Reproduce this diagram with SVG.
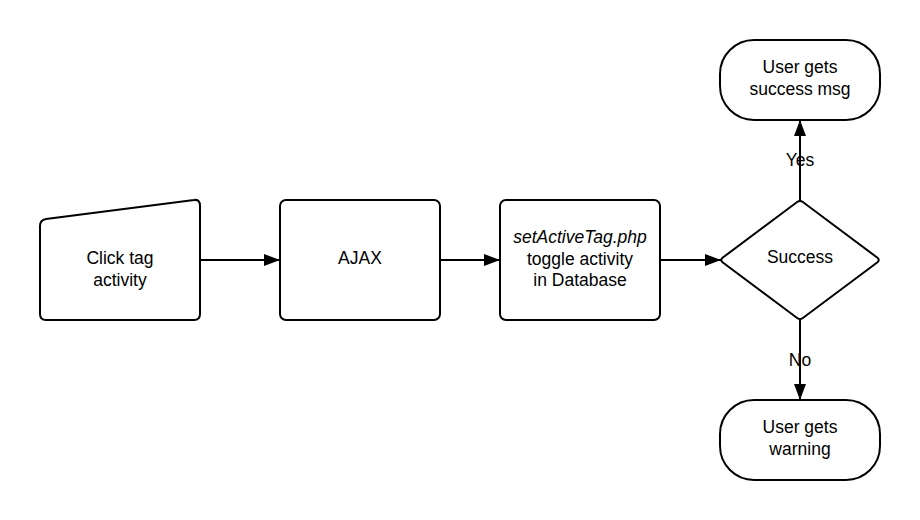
<svg xmlns="http://www.w3.org/2000/svg" width="920" height="520" viewBox="0 0 920 520">
<defs>
<style>
.s{fill:#fff;stroke:#000;stroke-width:2;stroke-linejoin:round}
.t{font-family:"Liberation Sans",Arial,sans-serif;font-size:17.5px;fill:#000;text-anchor:middle}
.c{fill:none;stroke:#000;stroke-width:2}
</style>
<marker id="a" viewBox="0 0 16 12" refX="16" refY="6" markerWidth="16" markerHeight="12" markerUnits="userSpaceOnUse" orient="auto">
<path d="M0,0 L16,6 L0,12 Z" fill="#000"/>
</marker>
</defs>
<rect width="920" height="520" fill="#fff"/>
<g id="connectors">
<line class="c" x1="200" y1="260" x2="280" y2="260" marker-end="url(#a)"/>
<line class="c" x1="440" y1="260" x2="500" y2="260" marker-end="url(#a)"/>
<line class="c" x1="660" y1="260" x2="721" y2="260" marker-end="url(#a)"/>
<line class="c" x1="800" y1="201" x2="800" y2="120" marker-end="url(#a)"/>
<line class="c" x1="800" y1="319" x2="800" y2="400" marker-end="url(#a)"/>
<text class="t" x="800" y="166">Yes</text>
<text class="t" x="800" y="366">No</text>
</g>
<g id="click">
<path class="s" d="M46,219 L194,200 Q200,199 200,206 L200,314 Q200,320 194,320 L46,320 Q40,320 40,314 L40,226 Q40,220 46,219 Z"/>
<text class="t" x="120" y="264">Click tag</text>
<text class="t" x="120" y="286">activity</text>
</g>
<g id="ajax">
<rect class="s" x="280" y="200" width="160" height="120" rx="6"/>
<text class="t" x="360" y="264">AJAX</text>
</g>
<g id="php">
<rect class="s" x="500" y="200" width="160" height="120" rx="6"/>
<text class="t" x="580" y="243" font-style="italic">setActiveTag.php</text>
<text class="t" x="580" y="265">toggle activity</text>
<text class="t" x="580" y="286">in Database</text>
</g>
<g id="success">
<path class="s" d="M797.5,201.8 Q800,200 802.5,201.8 L877.5,257.8 Q880,260 877.5,262.2 L802.5,318.2 Q800,320 797.5,318.2 L722.5,262.2 Q720,260 722.5,257.8 Z"/>
<text class="t" x="800" y="263">Success</text>
</g>
<g id="ok">
<rect class="s" x="720" y="40" width="160" height="80" rx="34"/>
<text class="t" x="800" y="73">User gets</text>
<text class="t" x="800" y="95">success msg</text>
</g>
<g id="warn">
<rect class="s" x="720" y="400" width="160" height="80" rx="34"/>
<text class="t" x="800" y="433">User gets</text>
<text class="t" x="800" y="455">warning</text>
</g>
</svg>
